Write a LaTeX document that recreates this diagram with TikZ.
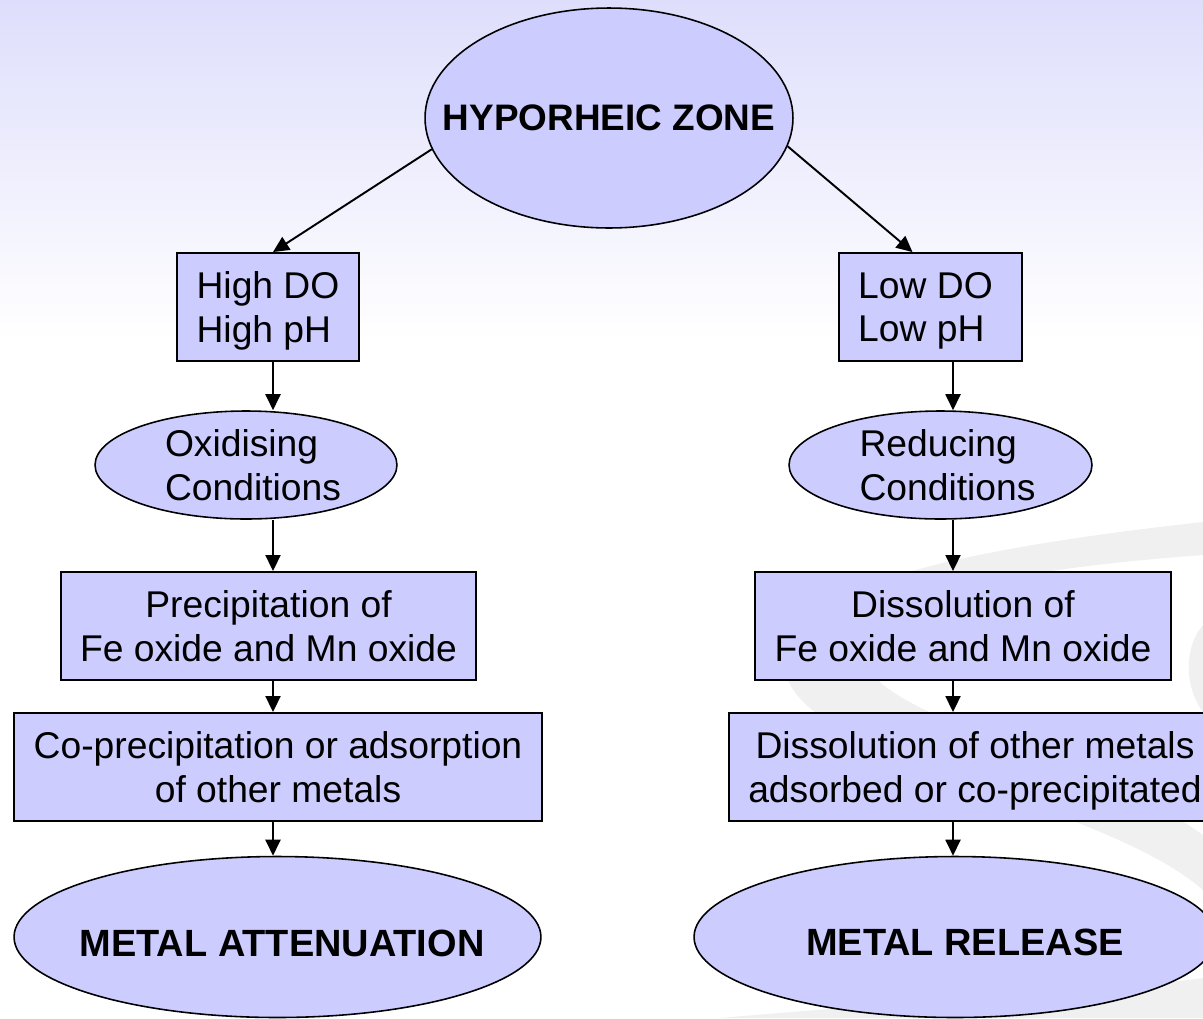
\documentclass[tikz,border=0pt]{standalone}
\usepackage{fontspec}
\setmainfont{Liberation Sans}
\usetikzlibrary{shapes.geometric,arrows.meta,calc}
\definecolor{boxfill}{RGB}{204,204,255}
\definecolor{bgtop}{RGB}{222,222,252}
\definecolor{swoosh}{RGB}{240,240,240}
\begin{document}
\begin{tikzpicture}[x=0.02cm,y=-0.02cm,
  every node/.style={font=\fontsize{21.2}{25}\selectfont},
  rbox/.style={draw=black,line width=1.1pt,fill=boxfill,rectangle,minimum height=2.16cm,inner sep=0pt,align=center,text depth=0pt},
  ebox/.style={draw=black,line width=0.9pt,fill=boxfill,ellipse,inner sep=0pt,align=center},
  titletext/.style={font=\fontsize{21.6}{25}\selectfont\bfseries},
  conn/.style={line width=1.1pt,-{Triangle[length=0.32cm,width=0.3cm]}}]
\useasboundingbox (0,0) rectangle (1203,1018);
\clip (0,0) rectangle (1203,1018);
% background
\fill[white] (0,0) rectangle (1203,1018);
\shade[top color=bgtop,bottom color=white] (0,0) rectangle (1203,340);
% faint swoosh decoration
\fill[swoosh] (1203,522) .. controls (950,550) and (770,590) .. (785,670)
  .. controls (800,760) and (1100,800) .. (1203,890) -- (1203,835)
  .. controls (1100,760) and (880,720) .. (865,660)
  .. controls (855,600) and (1000,570) .. (1203,555) -- cycle;
\fill[swoosh] (1203,625) .. controls (1182,650) and (1186,690) .. (1203,712) -- cycle;
\fill[swoosh] (720,1018) .. controls (900,1002) and (1100,992) .. (1203,978) -- (1203,1018) -- cycle;
% column coordinates
\coordinate (cl) at (273,0);
\coordinate (cr) at (953,0);
% nodes
\node[ebox,minimum width=7.36cm,minimum height=4.4cm,titletext,font=\fontsize{21}{25}\selectfont\bfseries] (hz) at (609,118) {\makebox[0pt]{HYPORHEIC ZONE}};
\node[rbox,minimum width=3.64cm,align=left] (hdo) at (268,307) {High DO\\High pH};
\node[rbox,minimum width=3.66cm,align=left] (ldo) at (930.5,307) {Low DO\hspace*{0.2cm}\\Low pH};
\node[ebox,minimum width=6.04cm,minimum height=2.16cm,align=left] (ox) at (246,465) {\hspace*{0.28cm}Oxidising\\\hspace*{0.28cm}Conditions};
\node[ebox,minimum width=6.06cm,minimum height=2.16cm,align=left] (red) at (940.5,465) {\hspace*{0.28cm}Reducing\\\hspace*{0.28cm}Conditions};
\node[rbox,minimum width=8.30cm] (prec) at (268.5,626) {Precipitation of\\Fe oxide and Mn oxide};
\node[rbox,minimum width=8.32cm] (diss) at (963,626) {Dissolution of\\Fe oxide and Mn oxide};
\node[rbox,minimum width=10.56cm] (cop) at (278,767) {Co-precipitation or adsorption\\of other metals};
\node[rbox,minimum width=9.84cm] (dis2) at (975,767) {Dissolution of other metals\\adsorbed or co-precipitated};
\node[ebox,minimum width=10.54cm,minimum height=3.22cm,titletext,text height=0.76cm,text depth=0pt] (att) at (277.5,937) {\makebox[0pt]{\hspace*{0.18cm}METAL ATTENUATION}};
\node[ebox,minimum width=10.44cm,minimum height=3.22cm,titletext,text height=0.72cm,text depth=0pt] (rel) at (955,937) {\makebox[0pt]{\hspace*{0.4cm}METAL RELEASE}};
% connectors
\draw[conn] (hz.190) -- (hdo.north -| cl);
\draw[conn] (hz.-9) -- ($(ldo.north)+(-18,0)$);
\draw[conn] (hdo.south -| cl) -- (ox.north -| cl);
\draw[conn] (ox.south -| cl) -- (prec.north -| cl);
\draw[conn] (prec.south -| cl) -- (cop.north -| cl);
\draw[conn] (cop.south -| cl) -- (att.north -| cl);
\draw[conn] (ldo.south -| cr) -- (red.north -| cr);
\draw[conn] (red.south -| cr) -- (diss.north -| cr);
\draw[conn] (diss.south -| cr) -- (dis2.north -| cr);
\draw[conn] (dis2.south -| cr) -- (rel.north -| cr);
\end{tikzpicture}
\end{document}
